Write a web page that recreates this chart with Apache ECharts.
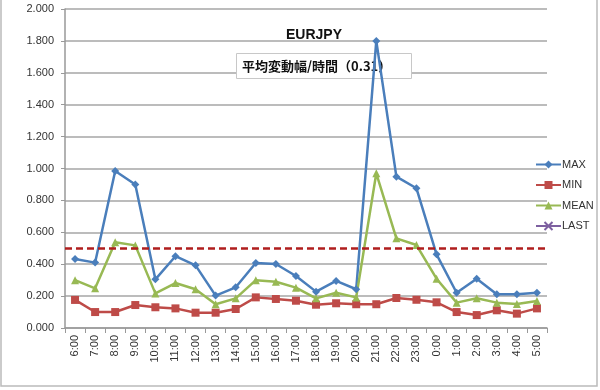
<!DOCTYPE html>
<html><head><meta charset="utf-8">
<script src="https://cdn.jsdelivr.net/npm/echarts@6/dist/echarts.min.js"></script>
<style>html,body{margin:0;padding:0;background:#fff}#c{width:600px;height:390px}</style>
</head><body><div id="c"></div>
<script>
const categories = ['6:00','7:00','8:00','9:00','10:00','11:00','12:00','13:00','14:00','15:00','16:00','17:00','18:00','19:00','20:00','21:00','22:00','23:00','0:00','1:00','2:00','3:00','4:00','5:00'];
const maxValues  = [0.433,0.410,0.984,0.900,0.305,0.450,0.393,0.203,0.255,0.408,0.401,0.326,0.228,0.295,0.243,1.800,0.949,0.876,0.462,0.221,0.309,0.211,0.211,0.221];
const minValues  = [0.176,0.100,0.100,0.144,0.130,0.123,0.096,0.096,0.119,0.192,0.182,0.171,0.146,0.155,0.149,0.149,0.188,0.177,0.161,0.100,0.081,0.111,0.090,0.123];
const meanValues = [0.300,0.249,0.537,0.518,0.217,0.282,0.243,0.149,0.186,0.300,0.290,0.253,0.186,0.221,0.192,0.970,0.562,0.520,0.309,0.159,0.186,0.159,0.150,0.169];
const lastValues = [];
const thresholdValue = 0.5;
const titleText = 'EURJPY';
const subtitleText = '平均変動幅/時間（0.31）';

const chart = echarts.init(document.getElementById('c'), null, {renderer: 'canvas'});
const xPath = 'path://M0,0 L10,10 M10,0 L0,10';
chart.setOption({
  animation: false,
  backgroundColor: '#fff',
  title: [
    {text: titleText, left: 281, top: 23, z: 1,
     textStyle: {fontSize: 14, fontWeight: 'bold', color: '#111', fontFamily: 'Liberation Sans'}},
    {text: subtitleText, left: 236, top: 53, padding: [6, 20, 6, 6], z: 1,
     borderColor: '#c8c8c8', borderWidth: 1, backgroundColor: '#fff',
     textStyle: {fontSize: 13, fontWeight: 'bold', color: '#111', fontFamily: 'Noto Sans CJK JP', lineHeight: 14}}
  ],
  legend: {
    orient: 'vertical', left: 530, top: 154, itemGap: 9.5, itemWidth: 25, itemHeight: 10,
    textStyle: {fontSize: 11, color: '#333', fontFamily: 'Liberation Sans', padding: [0,0,0,-4]},
    data: ['MAX','MIN','MEAN','LAST']
  },
  grid: {left: 65, right: 53, top: 9, bottom: 62, containLabel: false},
  xAxis: {
    type: 'category', data: categories, boundaryGap: true,
    axisLine: {lineStyle: {color: '#999', width: 1.5}},
    axisTick: {show: true, alignWithLabel: false, length: 5, lineStyle: {color: '#999'}},
    axisLabel: {rotate: 90, fontSize: 11, color: '#333', margin: 7, interval: 0, fontFamily: 'Liberation Sans'}
  },
  yAxis: {
    type: 'value', min: 0, max: 2, interval: 0.2,
    axisLine: {show: true, lineStyle: {color: '#999', width: 1.5}},
    axisTick: {show: true, length: 4, lineStyle: {color: '#999'}},
    axisLabel: {formatter: v => v.toFixed(3), fontSize: 11, color: '#333', margin: 11, fontFamily: 'Liberation Sans'},
    splitLine: {lineStyle: {color: '#a6a6a6', width: 1.5}}
  },
  series: [
    {name: 'MAX', type: 'line', data: maxValues, symbol: 'diamond', symbolSize: 8, z: 3,
     itemStyle: {color: '#4A7EBB'}, lineStyle: {width: 2.5, color: '#4A7EBB'},
     markLine: {silent: true, symbol: 'none', label: {show: false},
       lineStyle: {type: [7, 4], color: '#B01E1E', width: 2.5},
       data: [{yAxis: thresholdValue}]}},
    {name: 'MIN', type: 'line', data: minValues, symbol: 'rect', symbolSize: 8, z: 3,
     itemStyle: {color: '#BE4B48'}, lineStyle: {width: 2.5, color: '#BE4B48'}},
    {name: 'MEAN', type: 'line', data: meanValues, symbol: 'triangle', symbolSize: 8, z: 3,
     itemStyle: {color: '#98B954'}, lineStyle: {width: 2.5, color: '#98B954'}},
    {name: 'LAST', type: 'line', data: lastValues, symbol: xPath, symbolSize: 8, z: 3,
     itemStyle: {color: '#7D60A0', borderColor: '#7D60A0', borderWidth: 1.5}, lineStyle: {width: 2.5, color: '#7D60A0'}}
  ],
  graphic: [
    {type: 'rect', shape: {x: 1, y: -2, width: 596, height: 388}, silent: true,
     style: {fill: 'none', stroke: '#bbb', lineWidth: 1.5}}
  ]
});
</script></body></html>
